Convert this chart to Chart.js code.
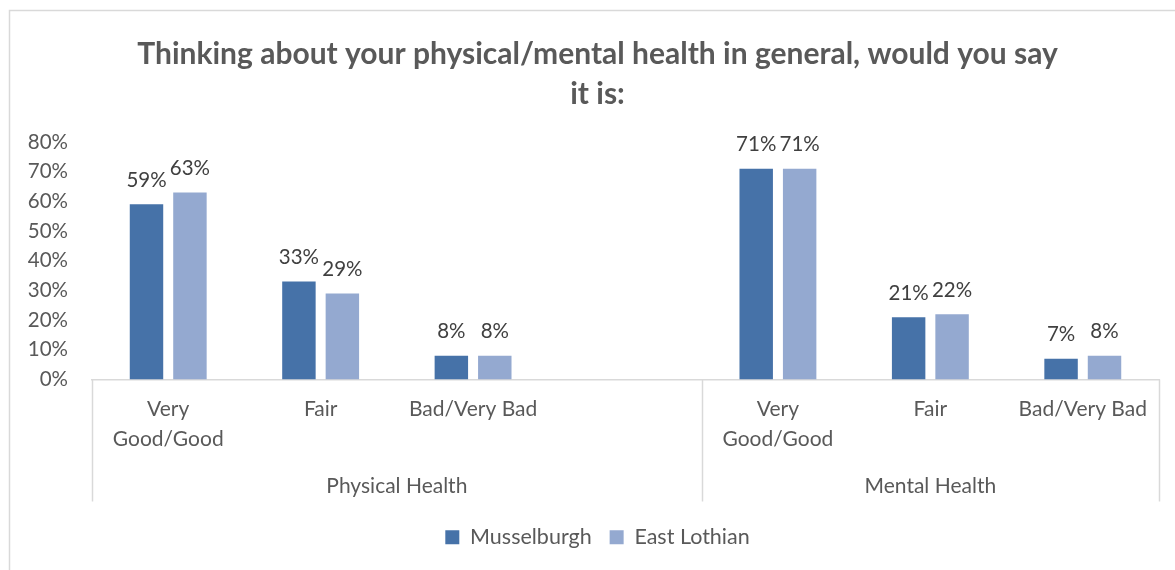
<!DOCTYPE html>
<html>
<head>
<meta charset="utf-8">
<script src="https://cdn.jsdelivr.net/npm/chart.js@4.4.1/dist/chart.umd.min.js"></script>
<style>
  html, body { margin: 0; padding: 0; background: #fff; }
  #wrap { width: 1175px; height: 570px; }
</style>
</head>
<body>
<div id="wrap"><canvas id="chart"></canvas></div>
<script>
// data
const categories = [["Very", "Good/Good"], "Fair", "Bad/Very Bad", "", ["Very", "Good/Good"], "Fair", "Bad/Very Bad"]
const groupNames = ["Physical Health", "Mental Health"]
const groupSizes = [4, 3]
const musselburgh = [59, 33, 8, null, 71, 21, 7]
const eastLothian = [63, 29, 8, null, 71, 22, 8]
const yTicks = [0, 10, 20, 30, 40, 50, 60, 70, 80]

const FONT = "Lato, 'Open Sans', sans-serif"
const grey = "#595959"
const lineGrey = "#d9d9d9"

// outer frame like the spreadsheet chart box
const framePlugin = {
  id: "frame",
  beforeDraw(chart) {
    const ctx = chart.ctx
    ctx.save()
    ctx.strokeStyle = lineGrey
    ctx.lineWidth = 1.5
    ctx.beginPath()
    ctx.moveTo(9.5, 570)
    ctx.lineTo(9.5, 10.5)
    ctx.lineTo(1175, 10.5)
    ctx.stroke()
    ctx.restore()
  }
}

// value labels over each bar
const valueLabels = {
  id: "valueLabels",
  afterDatasetsDraw(chart) {
    const ctx = chart.ctx
    ctx.save()
    ctx.font = "20.5px " + FONT
    ctx.fillStyle = "#404040"
    ctx.textAlign = "center"
    ctx.textBaseline = "middle"
    chart.data.datasets.forEach((ds, i) => {
      chart.getDatasetMeta(i).data.forEach((bar, j) => {
        if (ds.data[j] == null) return
        ctx.fillText(ds.data[j] + "%", bar.x, bar.y - 24)
      })
    })
    ctx.restore()
  }
}

// second level of the category axis: group lines and names
const groupAxis = {
  id: "groupAxis",
  afterDraw(chart) {
    const ctx = chart.ctx
    const x = chart.scales.x
    const area = chart.chartArea
    const bottom = area.bottom + 122
    const half = (x.getPixelForTick(1) - x.getPixelForTick(0)) / 2
    ctx.save()
    ctx.strokeStyle = lineGrey
    ctx.lineWidth = 1.5
    ctx.font = "21px " + FONT
    ctx.fillStyle = grey
    ctx.textAlign = "center"
    ctx.textBaseline = "middle"
    let start = 0
    let left = area.left
    const edges = [left]
    groupSizes.forEach((n, g) => {
      const last = start + n - 1
      const right = x.getPixelForTick(last) + half
      edges.push(right)
      ctx.fillText(groupNames[g], (left + right) / 2, area.bottom + 107)
      left = right
      start += n
    })
    edges.forEach(ex => {
      ctx.beginPath()
      ctx.moveTo(Math.round(ex) + 0.5, area.bottom)
      ctx.lineTo(Math.round(ex) + 0.5, bottom)
      ctx.stroke()
    })
    ctx.restore()
  }
}

new Chart(document.getElementById("chart"), {
  type: "bar",
  data: {
    labels: categories,
    datasets: [
      { label: "Musselburgh", data: musselburgh, backgroundColor: "#4672A8" },
      { label: "East Lothian", data: eastLothian, backgroundColor: "#94A9D0" }
    ]
  },
  options: {
    responsive: true,
    maintainAspectRatio: false,
    animation: false,
    categoryPercentage: 0.57,
    barPercentage: 0.77,
    // left padding keeps the title and legend centred like the original box
    layout: { padding: { left: 36, right: 16, top: 0, bottom: 12 } },
    plugins: {
      title: {
        display: true,
        text: ["Thinking about your physical/mental health in general, would you say", "it is:"],
        color: grey,
        font: { family: FONT, size: 30, weight: "bold", lineHeight: 1.333 },
        padding: { top: 34, bottom: 28 }
      },
      legend: {
        position: "bottom",
        labels: {
          color: grey,
          font: { family: FONT, size: 21.5 },
          boxWidth: 14,
          boxHeight: 14,
          padding: 18
        }
      },
      tooltip: { enabled: false }
    },
    scales: {
      y: {
        min: 0,
        max: 80,
        afterBuildTicks: s => { s.ticks = yTicks.map(v => ({ value: v })) },
        afterFit: s => {
          s.width = 56
          // tick labels reach into the padding, so don't clip them to the axis box
          s._computeLabelArea = () => null
        },
        grid: { display: false, drawTicks: false },
        border: { display: false },
        ticks: {
          color: grey,
          font: { family: FONT, size: 20.5 },
          padding: 24,
          callback: v => v + "%"
        }
      },
      x: {
        afterFit: s => { s.height = 129 },
        grid: { display: false, drawTicks: false },
        border: { display: true, color: lineGrey, width: 1.5 },
        ticks: {
          color: grey,
          font: { family: FONT, size: 21, lineHeight: 1.43 },
          padding: 15,
          autoSkip: false,
          maxRotation: 0
        }
      }
    }
  },
  plugins: [framePlugin, valueLabels, groupAxis]
})
</script>
</body>
</html>
